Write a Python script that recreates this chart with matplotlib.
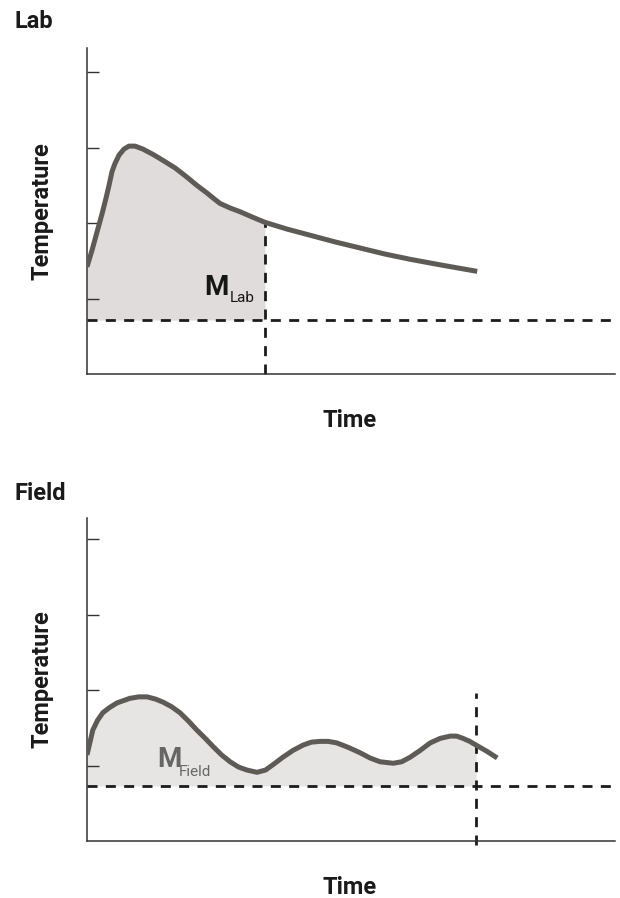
"""Lab vs field temperature profiles with the mean temperature area shaded."""

import matplotlib.pyplot as plt

# Lab panel: time (0-100 axis units) and temperature (tick units)
lab_time = [0, 0.95, 1.89, 2.84, 3.6, 4.17, 4.73, 5.3, 6.06, 7.0, 7.95, 9.1,
            10.6, 12.5, 14.4, 16.7, 18.9, 20.8, 22.7, 24.1, 25.2, 27.1, 29.0,
            31.3, 33.7, 37.9, 42.2, 47.0, 51.7, 56.4, 61.2, 67.4, 73.9]
lab_temp = [1.42, 1.64, 1.88, 2.12, 2.33, 2.50, 2.68, 2.79, 2.90, 2.98, 3.02,
            3.02, 2.98, 2.91, 2.83, 2.73, 2.61, 2.50, 2.40, 2.32, 2.26, 2.20,
            2.15, 2.08, 2.01, 1.92, 1.84, 1.75, 1.67, 1.59, 1.52, 1.44, 1.36]
lab_baseline = 0.715
lab_cutoff = 33.7

# Field panel
field_time = [0, 1.1, 2.0, 3.0, 4.3, 5.7, 8.1, 9.8, 11.4, 13.0, 14.4, 16.0,
              17.6, 19.2, 20.8, 22.4, 23.9, 25.5, 27.1, 28.7, 30.3, 32.2, 33.8,
              35.2, 37.1, 39.0, 40.9, 42.5, 44.1, 45.7, 47.3, 49.5, 51.7, 53.6,
              55.5, 58.0, 59.6, 61.2, 63.1, 65.0, 66.9, 68.8, 70.0, 71.2, 72.5,
              73.7, 75.7, 77.7]
field_temp = [1.14, 1.47, 1.60, 1.70, 1.77, 1.83, 1.89, 1.91, 1.91, 1.88, 1.84,
              1.78, 1.70, 1.59, 1.47, 1.36, 1.25, 1.14, 1.05, 0.98, 0.94, 0.91,
              0.94, 1.01, 1.11, 1.20, 1.27, 1.31, 1.32, 1.32, 1.30, 1.24, 1.17,
              1.10, 1.05, 1.03, 1.05, 1.11, 1.20, 1.30, 1.36, 1.39, 1.39, 1.36,
              1.32, 1.27, 1.19, 1.10]
field_baseline = 0.73
field_cutoff = 73.7

yticks = [1, 2, 3, 4]

FONT = ["Roboto", "DejaVu Sans"]
CURVE = "#5e5a56"
DASH = (0, (3.6, 3.0))


def draw_panel(ax, time, temp, baseline, cutoff, fill, ytop, vline_top, vline_bottom,
               mlabel, sub, mpos, subpos, mcolor):
    ax.set_xlim(0, 100)
    ax.set_ylim(0, ytop)
    for side in ["top", "right"]:
        ax.spines[side].set_visible(False)
    for side in ["left", "bottom"]:
        ax.spines[side].set_color("#333333")
        ax.spines[side].set_linewidth(1.1)
    ax.set_xticks([])
    ax.set_yticks(yticks)
    ax.set_yticklabels([])
    ax.tick_params(axis="y", direction="in", length=8.5, width=1.0, color="#333333")

    # shaded area under the curve, above the baseline, up to the cutoff time
    t_in = [t for t in time if t <= cutoff]
    y_in = temp[:len(t_in)]
    ax.fill_between(t_in, baseline, y_in, color=fill, lw=0, zorder=1)

    ax.plot(time, temp, color=CURVE, lw=3.6, solid_capstyle="butt",
            solid_joinstyle="round", zorder=3)
    ax.axhline(baseline, color="#1c1c1c", lw=2.0, ls=DASH, zorder=2)
    ax.plot([cutoff, cutoff], [vline_bottom, vline_top], color="#1c1c1c", lw=2.0,
            ls=DASH, zorder=2, clip_on=False)

    ax.text(mpos[0], mpos[1], mlabel, fontsize=20, fontweight="bold", color=mcolor,
            family=FONT, ha="left", va="baseline")
    ax.text(subpos[0], subpos[1], sub, fontsize=11, color=mcolor,
            family=FONT, ha="left", va="baseline")

    ax.text(-0.085, 0.5, "Temperature", rotation=90, ha="center", va="center",
            transform=ax.transAxes, fontsize=17, fontweight="bold", family=FONT,
            color="#1a1a1a")
    ax.text(0.497, -0.143, "Time", ha="center", va="center", transform=ax.transAxes,
            fontsize=17, fontweight="bold", family=FONT, color="#1a1a1a")


fig = plt.figure(figsize=(6.2, 8.98), dpi=100)

ax_lab = fig.add_axes([87 / 620, 1 - 374 / 898, 528 / 620, 326 / 898])
draw_panel(ax_lab, lab_time, lab_temp, lab_baseline, lab_cutoff, "#e0dcdc", 4.32,
           2.01, 0, "M", "Lab", (22.3, 1.05), (27.0, 0.95), "#161616")

ax_field = fig.add_axes([87 / 620, 1 - 841 / 898, 528 / 620, 323 / 898])
draw_panel(ax_field, field_time, field_temp, field_baseline, field_cutoff, "#e6e5e4",
           4.28, 1.96, -0.05, "M", "Field", (13.3, 0.98), (17.4, 0.86), "#666666")

fig.text(15 / 620, 1 - 28 / 898, "Lab", fontsize=17, fontweight="bold", family=FONT,
         ha="left", va="baseline", color="#1a1a1a")
fig.text(15 / 620, 1 - 500 / 898, "Field", fontsize=17, fontweight="bold", family=FONT,
         ha="left", va="baseline", color="#1a1a1a")

fig.savefig("out.png", dpi=100)
